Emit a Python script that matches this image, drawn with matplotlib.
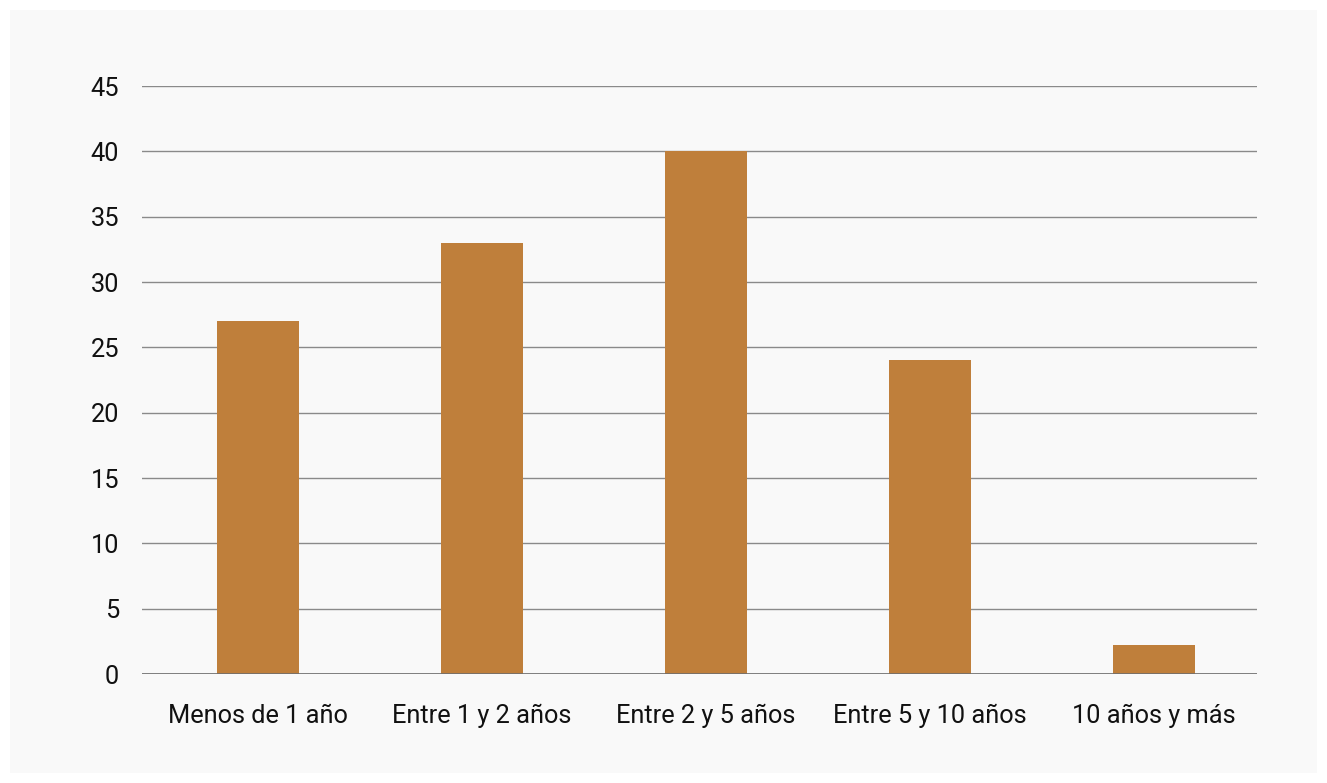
import matplotlib
matplotlib.use("Agg")
import matplotlib.pyplot as plt
from matplotlib.patches import Rectangle

categories = ["Menos de 1 año", "Entre 1 y 2 años", "Entre 2 y 5 años",
              "Entre 5 y 10 años", "10 años y más"]
values = [27, 33, 40, 24, 2.2]
yticks = [0, 5, 10, 15, 20, 25, 30, 35, 40, 45]

plt.rcParams['font.family'] = ['Roboto', 'DejaVu Sans']

W, H = 1327, 783
fig = plt.figure(figsize=(W / 100, H / 100), dpi=100)
fig.patch.set_facecolor("white")
panel = Rectangle((10 / W, 10 / H), 1307 / W, 763 / H,
                  transform=fig.transFigure, facecolor="#f9f9f9",
                  edgecolor="none", zorder=-10)
fig.add_artist(panel)

ax = fig.add_axes([142 / W, 109 / H, 1115 / W, 588 / H])
ax.set_zorder(5)
ax.set_facecolor("none")
x = range(len(categories))
ax.bar(x, values, width=0.362, color="#bf7f3b", zorder=3)
ax.set_xlim(-0.518, len(categories) - 0.54)
ax.set_ylim(0, 45)
ax.set_yticks(yticks)
ax.set_xticks(list(x))
ax.set_xticklabels(categories)
ax.yaxis.grid(True, color="#8a8a8a", linewidth=1.0, zorder=1)
ax.set_axisbelow(True)
ax.axhline(0, color="#6e6e6e", linewidth=1.2, zorder=4)
for s in ax.spines.values():
    s.set_visible(False)
ax.tick_params(axis="both", length=0, labelsize=18.3, colors="#111111")
ax.tick_params(axis="y", pad=16.5)
ax.tick_params(axis="x", pad=21.5)

fig.savefig("out.png", dpi=100)
